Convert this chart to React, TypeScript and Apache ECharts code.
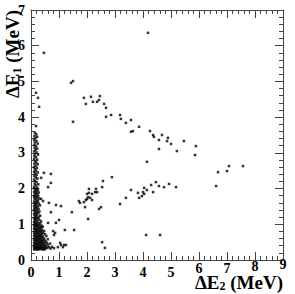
import React, { useEffect, useRef } from "react";
import * as echarts from "echarts";

const xTicks = [0, 1, 2, 3, 4, 5, 6, 7, 8, 9];
const yTicks = [0, 1, 2, 3, 4, 5, 6, 7];

// isolated events (ΔE2, ΔE1) in MeV
const sparsePoints: [number, number][] = [
  [4.18, 6.36], [0.46, 5.8], [1.43, 4.96], [1.5, 5.01], [0.18, 4.68], [0.25, 4.54], [0.29, 4.29], [0.18, 3.75], [1.5, 3.87],
  [1.89, 4.54], [1.96, 4.37], [2.14, 4.57], [2.21, 4.43], [2.36, 4.43], [2.43, 4.48], [2.46, 4.59], [2.61, 4.37], [2.68, 4.26],
  [2.68, 4.01], [2.86, 4.06], [3.18, 4.06], [3.21, 3.95], [3.39, 3.84], [3.57, 3.92], [3.57, 3.59], [3.64, 3.61], [3.86, 3.73],
  [4.25, 3.61], [4.36, 3.5], [4.39, 3.45], [4.57, 3.36], [4.68, 3.5], [4.89, 3.42], [4.86, 3.33], [5.0, 3.25], [5.46, 3.33],
  [5.89, 3.19], [4.57, 3.11], [5.21, 3.05], [5.86, 2.94], [4.14, 2.75], [2.89, 2.32],
  [4.0, 1.9], [3.96, 1.79], [4.04, 1.85], [4.04, 2.02], [4.14, 1.96], [4.29, 2.1], [4.36, 1.9], [4.46, 2.18], [4.57, 2.07],
  [4.75, 2.04], [4.93, 2.13], [5.18, 2.04], [6.61, 2.07], [6.68, 2.46], [7.0, 2.49], [7.07, 2.63], [7.57, 2.63], [4.11, 0.7], [4.61, 0.7],
  [2.57, 2.21], [2.54, 2.04], [2.32, 1.99], [2.36, 1.9], [2.29, 1.9], [2.07, 1.99], [2.07, 1.88], [2.18, 1.85], [2.0, 1.85],
  [2.04, 1.76], [2.11, 1.74], [2.0, 1.71], [1.96, 1.68], [2.18, 1.68], [1.89, 1.62], [1.71, 1.65], [1.75, 1.6], [1.93, 1.48],
  [2.5, 1.48], [2.43, 1.43], [1.46, 1.34], [2.04, 1.15], [1.21, 0.84], [1.54, 0.84], [3.18, 1.57], [3.39, 1.74], [3.57, 1.96],
  [3.82, 1.88], [3.86, 1.74], [2.54, 0.5], [2.64, 0.34],
  [0.46, 2.44], [0.71, 2.41], [0.36, 2.3], [0.71, 2.16], [0.64, 1.6], [0.89, 1.54], [1.07, 1.51], [0.71, 1.34], [1.0, 1.12],
  [0.89, 1.04], [0.61, 1.04], [0.79, 0.81], [0.86, 0.76], [0.82, 0.7], [1.04, 0.48], [1.18, 0.42], [1.07, 0.42], [1.14, 0.36],
  [1.25, 0.42], [0.43, 1.65], [0.36, 1.71], [0.61, 2.04], [0.96, 0.36],
];

// dense band at small ΔE2
const densePoints: [number, number][] = [
  [0.14, 3.56], [0.19, 3.52], [0.12, 3.47], [0.22, 3.45], [0.16, 3.41], [0.11, 3.36], [0.2, 3.33], [0.14, 3.29], [0.24, 3.26],
  [0.12, 3.22], [0.18, 3.19], [0.13, 3.14], [0.22, 3.12], [0.16, 3.08], [0.11, 3.04], [0.2, 3.01], [0.14, 2.97], [0.25, 2.95],
  [0.12, 2.91], [0.18, 2.88], [0.11, 2.83], [0.22, 2.81], [0.15, 2.77], [0.19, 2.73], [0.12, 2.7], [0.24, 2.68], [0.16, 2.64],
  [0.11, 2.6], [0.21, 2.58], [0.14, 2.54], [0.18, 2.5], [0.11, 2.47], [0.24, 2.45], [0.15, 2.42], [0.2, 2.38], [0.12, 2.35],
  [0.17, 2.31], [0.23, 2.28], [0.11, 2.25], [0.15, 2.21], [0.2, 2.18], [0.13, 2.14], [0.26, 2.12], [0.17, 2.09], [0.11, 2.05],
  [0.22, 2.03],
  [0.12, 2.0], [0.18, 1.98], [0.25, 1.97], [0.15, 1.94], [0.21, 1.92], [0.11, 1.9], [0.28, 1.89], [0.17, 1.87], [0.23, 1.85],
  [0.13, 1.83], [0.19, 1.8], [0.26, 1.79], [0.11, 1.77], [0.16, 1.75], [0.22, 1.73], [0.3, 1.72], [0.13, 1.7], [0.19, 1.67],
  [0.25, 1.66], [0.11, 1.63], [0.16, 1.61], [0.22, 1.6], [0.28, 1.58], [0.14, 1.56], [0.19, 1.54], [0.32, 1.53], [0.11, 1.51],
  [0.24, 1.5], [0.17, 1.48], [0.13, 1.45], [0.21, 1.44], [0.27, 1.43], [0.11, 1.41], [0.16, 1.39], [0.23, 1.37], [0.3, 1.36],
  [0.13, 1.34], [0.19, 1.32], [0.26, 1.31], [0.11, 1.28], [0.16, 1.27], [0.22, 1.25], [0.33, 1.24], [0.14, 1.22], [0.19, 1.2],
  [0.27, 1.19], [0.11, 1.17], [0.24, 1.16], [0.17, 1.14], [0.3, 1.12], [0.13, 1.11], [0.21, 1.09], [0.36, 1.08], [0.11, 1.06],
  [0.17, 1.05], [0.26, 1.04], [0.33, 1.02], [0.14, 1.01], [0.21, 1.0],
  [0.11, 0.97], [0.17, 0.97], [0.24, 0.96], [0.3, 0.97], [0.38, 0.96],
  [0.13, 0.92], [0.2, 0.92], [0.27, 0.91], [0.34, 0.92], [0.42, 0.93],
  [0.11, 0.87], [0.17, 0.87], [0.23, 0.86], [0.3, 0.87], [0.37, 0.88],
  [0.14, 0.82], [0.2, 0.82], [0.26, 0.81], [0.33, 0.82], [0.4, 0.83], [0.47, 0.81],
  [0.11, 0.77], [0.17, 0.77], [0.23, 0.76], [0.29, 0.77], [0.36, 0.78], [0.43, 0.76],
  [0.13, 0.72], [0.19, 0.72], [0.26, 0.71], [0.32, 0.72], [0.39, 0.73], [0.5, 0.72],
  [0.11, 0.67], [0.17, 0.67], [0.23, 0.66], [0.29, 0.67], [0.35, 0.68], [0.42, 0.66], [0.55, 0.67],
  [0.14, 0.62], [0.2, 0.62], [0.26, 0.61], [0.32, 0.62], [0.38, 0.63], [0.45, 0.61],
  [0.11, 0.57], [0.17, 0.57], [0.23, 0.56], [0.29, 0.57], [0.35, 0.58], [0.41, 0.56], [0.48, 0.57], [0.6, 0.58],
  [0.13, 0.52], [0.19, 0.52], [0.25, 0.51], [0.31, 0.52], [0.37, 0.53], [0.44, 0.51], [0.52, 0.52],
  [0.11, 0.47], [0.17, 0.47], [0.23, 0.46], [0.29, 0.47], [0.35, 0.48], [0.41, 0.46], [0.47, 0.47], [0.56, 0.48], [0.68, 0.46],
  [0.13, 0.42], [0.19, 0.42], [0.25, 0.41], [0.31, 0.42], [0.37, 0.43], [0.43, 0.41], [0.5, 0.42], [0.6, 0.43],
  [0.11, 0.37], [0.17, 0.37], [0.23, 0.36], [0.29, 0.37], [0.35, 0.38], [0.41, 0.36], [0.47, 0.37], [0.54, 0.38], [0.64, 0.36], [0.75, 0.37],
  [0.13, 0.33], [0.19, 0.33], [0.25, 0.32], [0.31, 0.33], [0.37, 0.34], [0.44, 0.32], [0.52, 0.33], [0.58, 0.34], [0.7, 0.32], [0.82, 0.33],
  [0.11, 0.3], [0.17, 0.3], [0.23, 0.29], [0.3, 0.3], [0.36, 0.31], [0.43, 0.29], [0.49, 0.3],
];

const axisColor = "#444";
const serif = "Liberation Serif";
const labelFont = { fontFamily: serif, fontWeight: "bold" as const, fontSize: 14, color: "#000" };

export default function App() {
  const ref = useRef<HTMLDivElement>(null);
  useEffect(() => {
    if (!ref.current) return;
    const chart = echarts.init(ref.current, null, { renderer: "svg" });
    const tickCommon = { show: true, inside: true, length: 8, lineStyle: { color: axisColor, width: 1 } };
    const minorCommon = { show: true, splitNumber: 5, length: 4, lineStyle: { color: axisColor, width: 1 } };
    chart.setOption({
      animation: false,
      backgroundColor: "#fff",
      grid: { left: 31, top: 10, width: 252, height: 250 },
      xAxis: [
        {
          type: "value", min: xTicks[0], max: xTicks[xTicks.length - 1], interval: 1, position: "bottom",
          axisLine: { show: true, onZero: false, lineStyle: { color: axisColor, width: 1 } },
          axisTick: tickCommon, minorTick: minorCommon, splitLine: { show: false },
          axisLabel: {
            ...labelFont, margin: 2, showMinLabel: true, showMaxLabel: true,
            formatter: (v: number) => (v >= 9 ? `{h9|${v}}` : v >= 8 ? `{h8|${v}}` : v >= 6 ? `{h6|${v}}` : `{n|${v}}`),
            rich: {
              n: { ...labelFont, lineHeight: 20 },
              h6: { ...labelFont, lineHeight: 12 },
              h8: { ...labelFont, lineHeight: 8 },
              h9: { ...labelFont, lineHeight: 4 },
            },
          },
        },
        {
          type: "value", min: xTicks[0], max: xTicks[xTicks.length - 1], interval: 1, position: "top",
          axisLine: { show: true, onZero: false, lineStyle: { color: axisColor, width: 1 } },
          axisTick: tickCommon, minorTick: minorCommon, splitLine: { show: false }, axisLabel: { show: false },
        },
      ],
      yAxis: [
        {
          type: "value", min: yTicks[0], max: yTicks[yTicks.length - 1], interval: 1, position: "left",
          axisLine: { show: true, onZero: false, lineStyle: { color: axisColor, width: 1 } },
          axisTick: tickCommon, minorTick: minorCommon, splitLine: { show: false },
          axisLabel: { ...labelFont, margin: 6, showMinLabel: true, showMaxLabel: true },
        },
        {
          type: "value", min: yTicks[0], max: yTicks[yTicks.length - 1], interval: 1, position: "right",
          axisLine: { show: true, onZero: false, lineStyle: { color: axisColor, width: 1 } },
          axisTick: tickCommon, minorTick: minorCommon, splitLine: { show: false }, axisLabel: { show: false },
        },
      ],
      graphic: [
        {
          type: "text", x: 283, y: 292,
          style: {
            text: "{a|ΔE}{s|2}{a| (MeV)}",
            align: "right", verticalAlign: "bottom",
            rich: {
              a: { fontFamily: serif, fontWeight: "bold", fontSize: 19, fill: "#000", verticalAlign: "bottom", lineHeight: 14 },
              s: { fontFamily: serif, fontWeight: "bold", fontSize: 12, fill: "#000", verticalAlign: "bottom", lineHeight: 8 },
            },
          },
        },
        {
          type: "text", x: 12, y: 10, rotation: Math.PI / 2,
          style: {
            text: "{a|ΔE}{s|1}{a| (MeV)}",
            align: "right", verticalAlign: "middle",
            rich: {
              a: { fontFamily: serif, fontWeight: "bold", fontSize: 19, fill: "#000" },
              s: { fontFamily: serif, fontWeight: "bold", fontSize: 12, fill: "#000", padding: [10, 0, 0, 0] },
            },
          },
        },
      ],
      series: [
        {
          type: "scatter", xAxisIndex: 0, yAxisIndex: 0, data: densePoints,
          symbol: "rect", symbolSize: 2.5, itemStyle: { color: "#000" }, silent: true,
        },
        {
          type: "scatter", xAxisIndex: 0, yAxisIndex: 0, data: sparsePoints,
          symbol: "rect", symbolSize: 2.5, itemStyle: { color: "#000" }, silent: true,
        },
      ],
    });
    return () => chart.dispose();
  }, []);
  return <div ref={ref} style={{ width: 295, height: 294, position: "absolute", left: 0, top: 0 }} />;
}
